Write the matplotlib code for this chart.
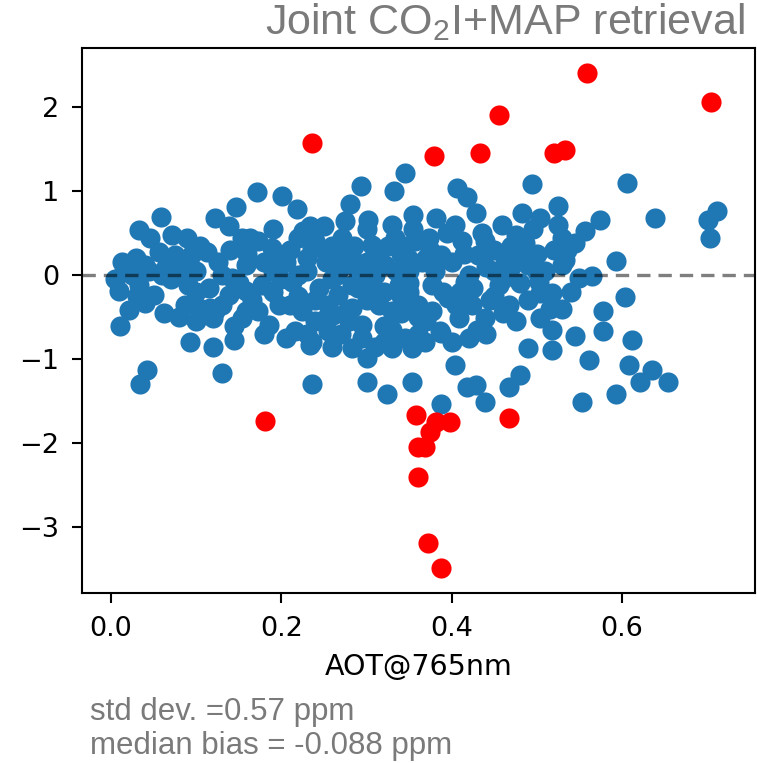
import matplotlib
matplotlib.use("Agg")
import matplotlib.pyplot as plt
from matplotlib import font_manager

# AOT@765nm vs. XCO2 error
blue_x = [0.059, 0.033, 0.046, 0.072, 0.089, 0.013, 0.029, 0.056, 0.075, 0.009,
          0.033, 0.050, 0.021, 0.062, 0.011, 0.091, 0.087, 0.103, 0.113, 0.122,
          0.138, 0.147, 0.126, 0.115, 0.122, 0.138, 0.154, 0.158, 0.158, 0.093,
          0.120, 0.144, 0.042, 0.034, 0.130, 0.171, 0.154, 0.142, 0.163, 0.226,
          0.195, 0.116, 0.120, 0.159, 0.234, 0.015, 0.025, 0.045, 0.065, 0.085,
          0.100, 0.070, 0.100, 0.040,
          0.020, 0.040, 0.060, 0.080, 0.095, 0.105, 0.130, 0.140, 0.150, 0.160,
          0.130, 0.100, 0.080, 0.145, 0.165, 0.030, 0.005,
          0.201, 0.218, 0.293, 0.345, 0.332, 0.281, 0.302, 0.355, 0.234, 0.250,
          0.275, 0.220, 0.173, 0.189, 0.236, 0.271, 0.306, 0.334, 0.357, 0.205,
          0.252, 0.283, 0.322, 0.349, 0.177, 0.212, 0.244, 0.283, 0.306, 0.338,
          0.173, 0.197, 0.224, 0.252, 0.283, 0.295, 0.330, 0.353, 0.185, 0.205,
          0.236, 0.283, 0.300, 0.330, 0.353, 0.320, 0.236, 0.300, 0.324, 0.353,
          0.255, 0.216, 0.267, 0.386, 0.261, 0.190, 0.220, 0.230, 0.260, 0.260,
          0.290, 0.300, 0.310, 0.320, 0.340, 0.340, 0.350, 0.360, 0.360, 0.270,
          0.190, 0.240, 0.270, 0.300, 0.330, 0.280, 0.350, 0.240,
          0.180, 0.200, 0.210, 0.220, 0.230, 0.240, 0.250, 0.255, 0.265, 0.270,
          0.275, 0.285, 0.290, 0.295, 0.300, 0.305, 0.310, 0.315, 0.320, 0.325,
          0.330, 0.335, 0.340, 0.345, 0.350, 0.355, 0.360, 0.365, 0.370, 0.375,
          0.190, 0.210, 0.260, 0.310, 0.345, 0.230, 0.180,
          0.494, 0.406, 0.418, 0.428, 0.482, 0.504, 0.525, 0.381, 0.404, 0.459,
          0.373, 0.412, 0.439, 0.475, 0.486, 0.529, 0.557, 0.388, 0.431, 0.463,
          0.490, 0.529, 0.549, 0.377, 0.416, 0.455, 0.502, 0.396, 0.424, 0.467,
          0.518, 0.377, 0.408, 0.439, 0.504, 0.518, 0.545, 0.388, 0.369, 0.490,
          0.518, 0.404, 0.561, 0.418, 0.428, 0.439, 0.467, 0.480, 0.387, 0.553,
          0.545, 0.533, 0.500, 0.504, 0.504, 0.370, 0.400, 0.420, 0.440, 0.450,
          0.470, 0.480, 0.500, 0.460, 0.410, 0.430, 0.400, 0.450, 0.520, 0.530,
          0.380, 0.390, 0.395, 0.405, 0.415, 0.425, 0.435, 0.445, 0.450, 0.460,
          0.470, 0.475, 0.485, 0.490, 0.495, 0.510, 0.515, 0.525, 0.535, 0.540,
          0.420, 0.440,
          0.606, 0.574, 0.639, 0.711, 0.701, 0.703, 0.593, 0.565, 0.603, 0.578,
          0.578, 0.612, 0.608, 0.621, 0.635, 0.654, 0.593]
blue_y = [0.69, 0.54, 0.44, 0.48, 0.44, 0.16, 0.20, 0.28, 0.24, -0.195,
          -0.115, -0.235, -0.41, -0.45, -0.61, -0.115, -0.355, -0.39, 0.28, 0.68,
          0.58, 0.81, 0.16, -0.155, -0.43, -0.235, 0.44, 0.12, -0.195, -0.79,
          -0.85, -0.77, -1.13, -1.29, -1.17, 0.99, -0.51, -0.04, 0.44, 0.52,
          0.24, -0.39, -0.51, -0.43, -0.83, 0.05, 0.00, 0.05, 0.10, 0.12,
          0.05, -0.05, -0.20, -0.33,
          0.08, 0.12, 0.00, 0.02, 0.25, 0.35, 0.00, 0.30, -0.10, 0.25,
          -0.35, -0.55, -0.50, -0.60, -0.30, -0.25, -0.05,
          0.94, 0.78, 1.06, 1.21, 1.00, 0.84, 0.66, 0.72, 0.58, 0.58,
          0.64, 0.44, 0.40, 0.32, 0.32, 0.44, 0.36, 0.44, 0.40, 0.16,
          0.16, 0.20, 0.12, 0.20, -0.115, -0.08, -0.155, -0.115, -0.195, -0.115,
          -0.43, -0.355, -0.43, -0.51, -0.39, -0.59, -0.43, -0.355, -0.59, -0.75,
          -0.79, -0.87, -0.99, -0.87, -0.87, -0.79, -1.29, -1.27, -1.41, -1.27,
          -0.67, -0.67, -0.235, -0.67, -0.47, 0.05, 0.00, 0.20, 0.35, -0.05,
          0.05, -0.30, 0.00, -0.60, 0.25, -0.25, 0.05, -0.50, -0.70, -0.70,
          -0.20, -0.30, 0.10, 0.55, 0.60, -0.55, -0.10, 0.40,
          0.15, -0.05, 0.30, -0.25, 0.05, -0.55, 0.30, -0.35, 0.00, 0.25,
          -0.45, 0.35, -0.15, -0.75, 0.15, -0.05, 0.25, -0.35, -0.20, 0.35,
          -0.65, 0.05, -0.45, 0.35, -0.20, 0.55, -0.35, 0.15, -0.55, 0.30,
          0.55, -0.35, -0.85, -0.85, -0.75, -0.70, -0.70,
          1.08, 1.04, 0.93, 0.74, 0.74, 0.68, 0.82, 0.68, 0.60, 0.60,
          0.44, 0.40, 0.40, 0.48, 0.38, 0.44, 0.52, 0.24, 0.24, 0.20,
          0.12, 0.12, -0.04, -0.115, -0.08, -0.115, -0.08, -0.275, -0.355, -0.355,
          -0.215, -0.43, -0.51, -0.51, -0.51, -0.65, -0.73, -0.69, -0.79, -0.87,
          -0.89, -1.07, -1.01, -1.33, -1.31, -1.51, -1.33, -1.19, -1.53, -1.51,
          0.38, 0.18, 0.04, -0.215, 0.00, 0.20, 0.15, 0.00, 0.10, -0.25,
          0.35, -0.10, 0.25, -0.45, -0.20, -0.65, -0.80, 0.05, 0.30, -0.40,
          0.05, -0.20, 0.50, -0.35, 0.25, -0.15, 0.50, -0.30, 0.30, -0.05,
          0.10, -0.55, 0.20, -0.30, 0.55, 0.05, -0.40, 0.60, 0.30, -0.20,
          -0.75, -0.70,
          1.10, 0.66, 0.68, 0.76, 0.66, 0.44, 0.17, -0.015, -0.255, -0.43,
          -0.665, -0.77, -1.07, -1.27, -1.13, -1.27, -1.41]

# outliers in red
red_x = [0.181, 0.236, 0.379, 0.433, 0.455, 0.520, 0.533, 0.559, 0.704, 0.358,
         0.374, 0.382, 0.398, 0.361, 0.369, 0.361, 0.372, 0.387, 0.467]
red_y = [-1.74, 1.565, 1.418, 1.446, 1.908, 1.446, 1.485, 2.40, 2.055, -1.66,
         -1.87, -1.75, -1.75, -2.05, -2.05, -2.40, -3.19, -3.48, -1.70]

title = "Joint CO$_\\mathregular{2}$I+MAP retrieval"
stats = ["std dev. =0.57 ppm", "median bias = -0.088 ppm"]

names = {f.name for f in font_manager.fontManager.ttflist}
side_font = "Liberation Sans" if "Liberation Sans" in names else "DejaVu Sans"
grey = "#7a7a7a"

fig = plt.figure(figsize=(7.57, 7.63), dpi=100)
ax = fig.add_axes([0.1083, 0.2228, 0.889, 0.7143])

ax.scatter(blue_x, blue_y, s=210, color="#1f77b4", linewidths=0)
ax.scatter(red_x, red_y, s=210, color="red", linewidths=0)
ax.axhline(0, color="k", linestyle="--", alpha=0.5, linewidth=2.4, dashes=(4, 2.4))

ax.set_xlim(-0.034, 0.756)
ax.set_ylim(-3.78, 2.70)
ax.set_xticks([0.0, 0.2, 0.4, 0.6])
ax.set_yticks([-3, -2, -1, 0, 1, 2])
ax.tick_params(labelsize=19.5, length=7, width=1.5, pad=9.5)
for sp in ax.spines.values():
    sp.set_linewidth(1.5)
ax.set_xlabel("AOT@765nm", fontsize=20.5, labelpad=8)

fig.text(0.984, 0.971, title, ha="right", va="center", fontsize=31,
         color=grey, family=side_font)
fig.text(0.119, 0.067, stats[0], ha="left", va="center", fontsize=22.5,
         color=grey, family=side_font)
fig.text(0.119, 0.022, stats[1], ha="left", va="center", fontsize=22.5,
         color=grey, family=side_font)

fig.savefig("out.png", dpi=100)
